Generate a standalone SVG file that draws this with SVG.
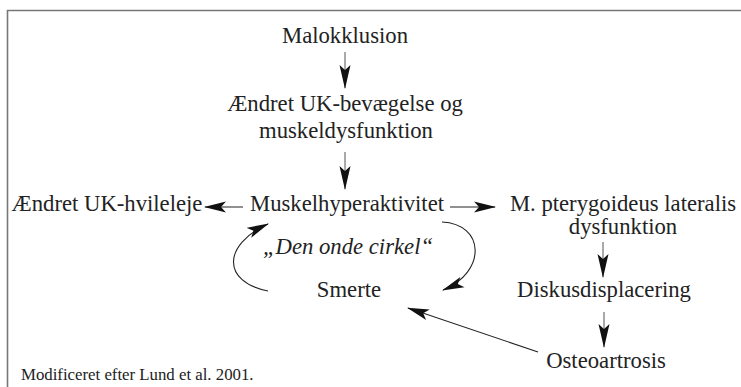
<svg xmlns="http://www.w3.org/2000/svg" width="741" height="387" viewBox="0 0 741 387">
<style>
text{font-family:'Liberation Serif','DejaVu Serif',serif;fill:#222}
.t{font-size:22.7px;text-anchor:middle}
.it{font-style:italic}
.fn{font-size:16.8px}
.ln{fill:none;stroke:#222;stroke-width:1.1}
.lv{fill:none;stroke:#555;stroke-width:1}
</style>
<defs>
<marker id="ah" viewBox="0 -6 22 12" markerWidth="22" markerHeight="12" refX="21" refY="0" orient="auto" markerUnits="userSpaceOnUse">
<path d="M0,-5.5 L22,0 L0,5.5 L5,0 Z" fill="#111"/>
</marker>
<marker id="av" viewBox="0 -6 24 12" markerWidth="24" markerHeight="12" refX="23" refY="0" orient="auto" markerUnits="userSpaceOnUse">
<path d="M0,-5.5 L24,0 L0,5.5 L5,0 Z" fill="#111"/>
</marker>
</defs>
<rect width="741" height="387" fill="#fff"/>
<path d="M7.5,400 V10.5 H745" fill="none" stroke="#777" stroke-width="1.6"/>
<g id="connectors">
<line class="lv" x1="345" y1="52" x2="345" y2="88" marker-end="url(#av)"/>
<line class="lv" x1="345" y1="152" x2="345" y2="189" marker-end="url(#av)"/>
<line class="lv" x1="603" y1="242" x2="603" y2="277" marker-end="url(#av)"/>
<line class="lv" x1="604" y1="312" x2="604" y2="347" marker-end="url(#av)"/>
<line class="ln" x1="243" y1="207" x2="205" y2="207" marker-end="url(#ah)"/>
<line class="ln" x1="450" y1="207" x2="495" y2="207" marker-end="url(#ah)"/>
<path class="ln" d="M268,291 C222,282 222,245 268,224" marker-end="url(#ah)"/>
<path class="ln" d="M442,222 C485,224 487,272 443,290" marker-end="url(#ah)"/>
<line class="ln" x1="538" y1="352" x2="408" y2="308" marker-end="url(#ah)"/>
</g>
<g id="n-malokklusion"><text class="t" x="345" y="43">Malokklusion</text></g>
<g id="n-aendret-bev"><text class="t" x="345" y="111">Ændret UK-bevægelse og</text><text class="t" x="346" y="138">muskeldysfunktion</text></g>
<g id="n-hvileleje"><text class="t" x="107" y="211">Ændret UK-hvileleje</text></g>
<g id="n-muskelhyper"><text class="t" x="347" y="211">Muskelhyperaktivitet</text></g>
<g id="n-pterygoideus"><text class="t" x="623" y="211">M. pterygoideus lateralis</text><text class="t" x="623" y="234">dysfunktion</text></g>
<g id="n-cirkel"><text class="t it" x="348" y="254">„Den onde cirkel“</text></g>
<g id="n-smerte"><text class="t" x="349" y="297">Smerte</text></g>
<g id="n-diskus"><text class="t" x="604" y="297">Diskusdisplacering</text></g>
<g id="n-osteo"><text class="t" x="606" y="368">Osteoartrosis</text></g>
<g id="n-note"><text class="fn" x="21" y="380">Modificeret efter Lund et al. 2001.</text></g>
</svg>
